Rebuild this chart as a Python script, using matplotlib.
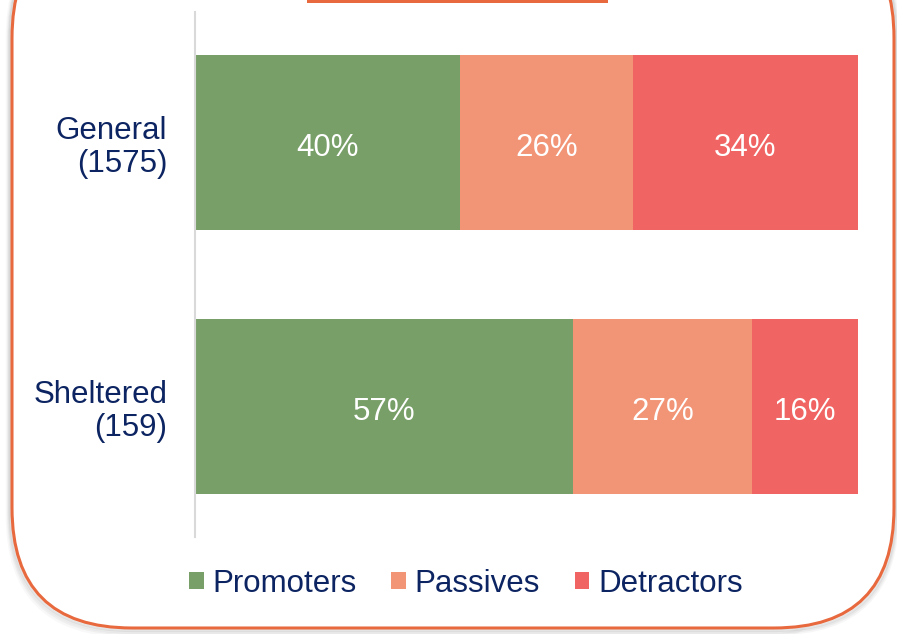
import matplotlib
matplotlib.use("Agg")
import matplotlib.pyplot as plt
from matplotlib.patches import FancyBboxPatch, Rectangle, Patch
import numpy as np

categories = ["General\n(1575)", "Sheltered\n(159)"]
series_names = ["Promoters", "Passives", "Detractors"]
promoters = [40, 57]
passives = [26, 27]
detractors = [34, 16]
series_values = [promoters, passives, detractors]
colors = ["#789F68", "#F29476", "#F06563"]
text_color = "#0C2461"
border_color = "#E8693E"

plt.rcParams['font.family'] = ['Liberation Sans', 'DejaVu Sans']

W, H = 897, 634
fig = plt.figure(figsize=(W / 100, H / 100), dpi=100)

# background decoration axes in pixel coordinates
bg = fig.add_axes([0, 0, 1, 1], zorder=0)
bg.set_xlim(0, W)
bg.set_ylim(H, 0)
bg.axis("off")
r = 120
x0, x1, y0, y1 = 12, 894, -82, 628
for i, (off, a) in enumerate([(7, 0.05), (5, 0.07), (3.5, 0.09), (2, 0.12)]):
    sh = FancyBboxPatch((x0 - off * 0.6, y0), (x1 - x0) + off * 1.2, (y1 - y0) + off,
                        boxstyle=f"round,pad=0,rounding_size={r}",
                        facecolor="none", edgecolor=(0.5, 0.5, 0.5, a), linewidth=3)
    bg.add_patch(sh)
box = FancyBboxPatch((x0, y0), x1 - x0, y1 - y0,
                     boxstyle=f"round,pad=0,rounding_size={r}",
                     facecolor="white", edgecolor=border_color, linewidth=2.2)
bg.add_patch(box)
bg.add_patch(Rectangle((307, -2), 301, 4.5, facecolor=border_color, edgecolor="none"))

# main axes
left, right, top, bottom = 195, 858, 12, 537
ax = fig.add_axes([left / W, 1 - bottom / H, (right - left) / W, (bottom - top) / H], zorder=1)
ax.patch.set_alpha(0)
y = np.arange(len(categories))
cum = np.zeros(len(categories))
bar_h = 0.663
for name, vals, c in zip(series_names, series_values, colors):
    vals = np.array(vals, dtype=float)
    bars = ax.barh(y, vals, left=cum, height=bar_h, color=c, label=name, edgecolor="none")
    for b, v in zip(bars, vals):
        ax.text(b.get_x() + b.get_width() / 2, b.get_y() + b.get_height() / 2 + 0.022, f"{int(v)}%",
                ha="center", va="center", color="white", fontsize=22.5)
    cum += vals

ax.set_xlim(0, 100)
ax.set_ylim(1.494, -0.494)
ax.set_yticks(y)
ax.set_yticklabels(categories, fontsize=22.5, color=text_color, ha="right", linespacing=1.15)
ax.tick_params(axis="y", length=0, pad=20)
ax.set_xticks([])
for s in ["top", "right", "bottom"]:
    ax.spines[s].set_visible(False)
ax.spines["left"].set_color("#D9D9D9")
ax.spines["left"].set_linewidth(1.5)

handles = [Patch(facecolor=c, edgecolor="none") for c in colors]
leg = fig.legend(handles, series_names, loc="center", bbox_to_anchor=(466 / W, 1 - 584 / H),
                 ncol=3, frameon=False, fontsize=22.5, handlelength=0.47, handleheight=0.47,
                 handletextpad=0.28, columnspacing=1.1, borderpad=0)
for t in leg.get_texts():
    t.set_color(text_color)

fig.savefig("out.png", dpi=100)
